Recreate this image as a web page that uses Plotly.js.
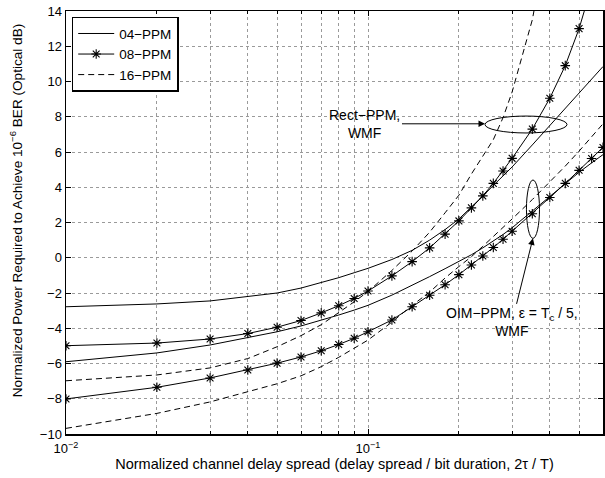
<!DOCTYPE html>
<html>
<head>
<meta charset="utf-8">
<script src="https://cdn.plot.ly/plotly-3.0.1.min.js"></script>
<style>html,body{margin:0;padding:0;background:#fff;}#chart{width:605px;height:478px;}</style>
</head>
<body>
<div id="chart"></div>
<script>
// Normalized delay spread (2tau/T)
const delaySpread = [0.01,0.02,0.03,0.04,0.05,0.06,0.07,0.08,0.09,0.1,0.12,0.14,0.16,0.18,0.2,0.22,0.24,0.26,0.28,0.3,0.35,0.4,0.45,0.5,0.55,0.6];
// Rect-PPM, WMF
const rect04 = [-2.78,-2.62,-2.45,-2.22,-2.0,-1.72,-1.42,-1.13,-0.85,-0.6,-0.1,0.42,1.0,1.6,2.2,2.85,3.5,4.1,4.65,5.15,6.4,7.5,8.45,9.35,10.1,10.85];
const rect08 = [-4.99,-4.84,-4.61,-4.30,-3.94,-3.56,-3.13,-2.72,-2.31,-1.89,-1.03,-0.22,0.56,1.34,2.09,2.83,3.51,4.22,4.92,5.64,7.30,9.05,10.9,13.0,15.4,18.0];
const rect16 = [-6.98,-6.65,-6.25,-5.72,-5.05,-4.42,-3.8,-3.12,-2.5,-1.92,-0.72,0.38,1.45,2.55,3.55,4.75,5.75,6.7,7.95,9.4,13.5,18.5,23,27,31,35];
// OIM-PPM, eps = Tc/5, WMF
const oim04 = [-5.9,-5.4,-4.95,-4.55,-4.2,-3.87,-3.55,-3.25,-2.97,-2.7,-2.12,-1.57,-1.07,-0.62,-0.22,0.17,0.56,0.94,1.32,1.7,2.65,3.47,4.2,4.85,5.38,5.85];
const oim08 = [-8.01,-7.35,-6.82,-6.37,-5.98,-5.63,-5.28,-4.92,-4.57,-4.20,-3.53,-2.78,-2.13,-1.53,-0.96,-0.41,0.10,0.58,1.05,1.50,2.50,3.42,4.22,4.96,5.63,6.26];
const oim16 = [-9.68,-8.83,-8.18,-7.6,-7.15,-6.7,-6.18,-5.65,-5.15,-4.67,-3.65,-2.7,-1.95,-1.15,-0.5,0.06,0.65,1.2,1.7,2.2,3.3,4.3,5.2,6.05,6.85,7.6];

const seriesNames = ['04\u2212PPM','08\u2212PPM','16\u2212PPM'];
const xMajorTicks = [0.01, 0.1];
const xMajorText = ['10<sup>\u22122</sup>','10<sup>\u22121</sup>'];
const xMinorTicks = [0.02,0.03,0.04,0.05,0.06,0.07,0.08,0.09,0.2,0.3,0.4,0.5,0.6];
const yTicks = [-10,-8,-6,-4,-2,0,2,4,6,8,10,12,14];
const xTitle = 'Normalized channel delay spread (delay spread / bit duration, 2\u03c4 / T)';
const yTitle = 'Normalized Power Required to Achieve 10<sup>\u22126</sup> BER (Optical dB)';

const FONT = 'Liberation Sans, Arial, Helvetica, sans-serif';

function tr(y, idx, show) {
  const t = {
    x: delaySpread, y: y, type: 'scatter',
    name: seriesNames[idx], legendgroup: 'g' + idx, showlegend: show,
    line: {color: 'black', width: 1},
    cliponaxis: true
  };
  if (idx === 0) { t.mode = 'lines'; }
  if (idx === 1) { t.mode = 'lines+markers'; t.marker = {symbol: 'asterisk-open', size: 8, color: 'black', line: {color: 'black', width: 1.1}}; }
  if (idx === 2) { t.mode = 'lines'; t.line.dash = '6px,4px'; }
  return t;
}

const data = [
  tr(rect04, 0, true), tr(rect08, 1, true), tr(rect16, 2, true),
  tr(oim04, 0, false), tr(oim08, 1, false), tr(oim16, 2, false)
];

const axisCommon = {
  showline: true, linecolor: 'black', linewidth: 1.5, mirror: 'ticks',
  ticks: 'inside', ticklen: 5, tickcolor: 'black', tickwidth: 1,
  showgrid: true, gridcolor: '#9a9a9a', gridwidth: 1, griddash: 'dot',
  zeroline: false, tickfont: {family: FONT, size: 13, color: 'black'}
};

const layout = {
  width: 605, height: 478,
  margin: {l: 66, r: 2, t: 11, b: 44},
  paper_bgcolor: 'white', plot_bgcolor: 'white',
  font: {family: FONT, size: 14, color: 'black'},
  xaxis: Object.assign({}, axisCommon, {
    type: 'log', range: [Math.log10(0.01), Math.log10(0.6)],
    tickmode: 'array', tickvals: xMajorTicks, ticktext: xMajorText,
    ticklabelstandoff: 2,
    minor: {tickmode: 'array', tickvals: xMinorTicks, ticks: 'inside', ticklen: 3, tickcolor: 'black',
            showgrid: true, gridcolor: '#9a9a9a', gridwidth: 1, griddash: 'dot'},
    title: {text: xTitle, font: {family: FONT, size: 14.5}, standoff: 2}
  }),
  yaxis: Object.assign({}, axisCommon, {
    range: [-10, 14], tickmode: 'array', tickvals: yTicks,
    title: {text: ''}
  }),
  legend: {
    x: 0.0106, y: 0.9865, xanchor: 'left', yanchor: 'top',
    bgcolor: 'white', bordercolor: 'black', borderwidth: 1.5,
    font: {family: FONT, size: 13.5, color: 'black'},
    itemwidth: 36,
    tracegroupgap: 0
  },
  shapes: [
    {type: 'circle', xref: 'x', yref: 'y', x0: 0.244, x1: 0.456, y0: 7.08, y1: 8.04,
     line: {color: 'black', width: 1}},
    {type: 'circle', xref: 'x', yref: 'y', x0: 0.3347, x1: 0.3697, y0: 1.10, y1: 4.41,
     line: {color: 'black', width: 1}}
  ],
  annotations: [
    {xref: 'paper', yref: 'paper', x: -0.093, y: 0.529, xanchor: 'center', yanchor: 'middle',
     textangle: -90, text: yTitle, showarrow: false, font: {family: FONT, size: 13.6, color: 'black'}},
    {xref: 'x', yref: 'y', x: Math.log10(0.244), y: 7.6, ax: -120, ay: 0,
     text: 'Rect\u2212PPM,<br>WMF', showarrow: true, arrowhead: 2, arrowsize: 1.3, arrowwidth: 1,
     arrowcolor: 'black', standoff: 0, font: {family: FONT, size: 14, color: 'black'}},
    {xref: 'x', yref: 'y', x: Math.log10(0.3517), y: 1.10, ax: -21, ay: 84,
     text: 'OIM\u2212PPM, \u03b5 = T<sub>c</sub> / 5,<br>WMF', showarrow: true, arrowhead: 2, arrowsize: 1.3, arrowwidth: 1,
     arrowcolor: 'black', standoff: 0, font: {family: FONT, size: 14, color: 'black'}}
  ]
};

Plotly.newPlot('chart', data, layout, {displayModeBar: false, staticPlot: true});
</script>
</body>
</html>
